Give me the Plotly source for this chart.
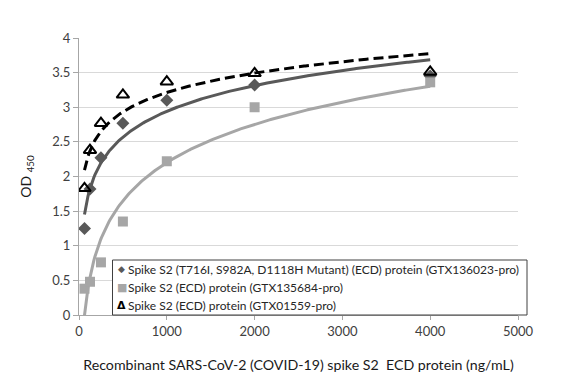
import numpy as np
import plotly.graph_objects as go

conc = [62.5, 125, 250, 500, 1000, 2000, 4000]
od_mutant = [1.25, 1.82, 2.27, 2.77, 3.10, 3.32, 3.45]
od_135684 = [0.38, 0.48, 0.76, 1.35, 2.22, 3.00, 3.36]
od_01559 = [1.83, 2.38, 2.77, 3.18, 3.37, 3.49, 3.51]

names = [
    "Spike S2 (T716I, S982A, D1118H Mutant) (ECD) protein (GTX136023-pro)",
    "Spike S2 (ECD) protein (GTX135684-pro)",
    "Spike S2 (ECD) protein (GTX01559-pro)",
]

FONT = "Lato"

def log_fit(x, y):
    x = np.asarray(x, float)
    a, b = np.polyfit(np.log(x), np.asarray(y, float), 1)
    xs = np.linspace(x.min(), x.max(), 300)
    return xs, a * np.log(xs) + b

fig = go.Figure()

# logarithmic trendlines
for y, color, dash in [
    (od_135684, "#a6a6a6", "solid"),
    (od_mutant, "#595959", "solid"),
    (od_01559, "#000000", "10px,5px"),
]:
    xs, ys = log_fit(conc, y)
    fig.add_trace(go.Scatter(x=xs, y=ys, mode="lines", showlegend=False,
                             line=dict(color=color, width=3, dash=dash),
                             hoverinfo="skip"))

fig.add_trace(go.Scatter(x=conc, y=od_mutant, mode="markers", name=names[0], showlegend=False,
                         marker=dict(symbol="diamond", size=10, color="#595959")))
fig.add_trace(go.Scatter(x=conc, y=od_135684, mode="markers", name=names[1], showlegend=False,
                         marker=dict(symbol="square", size=10, color="#a6a6a6")))
fig.add_trace(go.Scatter(x=conc, y=od_01559, mode="markers", name=names[2], showlegend=False,
                         marker=dict(symbol="triangle-up-open", size=11,
                                     color="#000000", line=dict(width=2))))

# page has an 8px body margin; work in window pixel coordinates
OFF = 8
W, H = 582 - OFF, 382 - OFF
PW, PH, L, B = 439, 277, 79, 315   # plot area in window pixels
def px(x):
    return (x - L) / PW
def py(y):
    return (B - y) / PH

fig.add_shape(type="rect", xref="paper", yref="paper",
              x0=px(112.5), x1=px(527), y0=py(315), y1=py(260),
              line=dict(color="#404040", width=1), fillcolor="white", layer="above")

glyphs = [("◆", "#595959", 9), ("■", "#a6a6a6", 11), ("<b>Δ</b>", "#000000", 11)]
rows = [269, 287, 305]
for (g, c, s), name, r in zip(glyphs, names, rows):
    fig.add_annotation(xref="paper", yref="paper", x=px(121.5), y=py(r),
                       text=g, showarrow=False, xanchor="center", yanchor="middle",
                       font=dict(family="DejaVu Sans", size=s, color=c))
    fig.add_annotation(xref="paper", yref="paper", x=px(126), y=py(r),
                       text=name, showarrow=False, xanchor="left", yanchor="middle",
                       font=dict(family=FONT, size=12, color="#262626"))

fig.update_layout(
    width=W, height=H,
    margin=dict(l=L - OFF, r=W - (L - OFF) - PW, t=B - PH - OFF, b=H - (B - OFF)),
    paper_bgcolor="white", plot_bgcolor="white",
    font=dict(family=FONT, size=12, color="#404040"),
    showlegend=False,
    xaxis=dict(range=[0, 5000], dtick=1000, showgrid=False, zeroline=False,
               automargin=False,
               showline=True, linecolor="#a6a6a6", linewidth=1,
               ticks="outside", ticklen=4, tickcolor="#a6a6a6",
               tickfont=dict(size=13, color="#404040"),
               title=dict(text="Recombinant SARS-CoV-2 (COVID-19) spike S2  ECD protein (ng/mL)",
                          font=dict(size=14.2, color="#1a1a1a"), standoff=22)),
    yaxis=dict(range=[0, 4], dtick=0.5, showgrid=True, gridcolor="#d9d9d9",
               zeroline=False, automargin=False,
               showline=True, linecolor="#a6a6a6", linewidth=1,
               ticks="outside", ticklen=5, tickcolor="#a6a6a6",
               tickfont=dict(size=13, color="#404040"),
               title=dict(text="OD <sub>450</sub>", font=dict(size=14, color="#1a1a1a"),
                          standoff=17)),
)

fig.write_html("out.html")
